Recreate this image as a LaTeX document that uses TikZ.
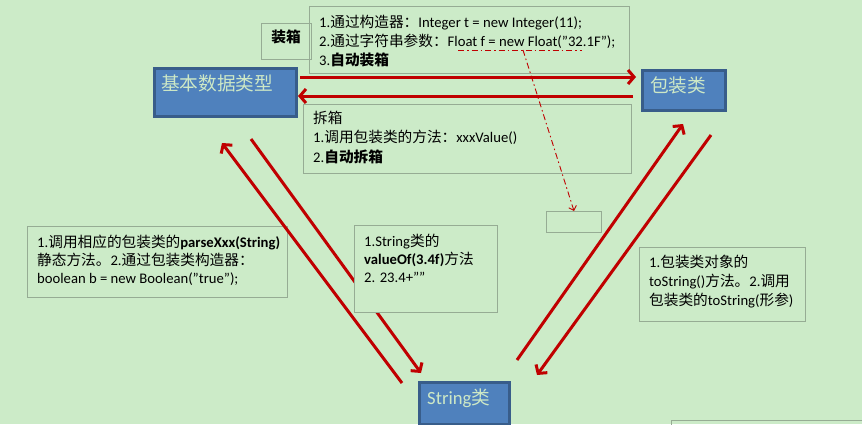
\documentclass[tikz,border=0pt]{standalone}
\usepackage{fontspec}
\setmainfont{Carlito}
\newfontfamily\cjk{Noto Sans CJK SC}
\usetikzlibrary{arrows.meta}
\newcommand\zh[1]{{\cjk #1}}
\newcommand\qq{\symbol{34}}
\definecolor{bgc}{RGB}{204,235,200}
\definecolor{bluefill}{RGB}{79,129,189}
\definecolor{blueedge}{RGB}{56,93,138}
\definecolor{paletext}{RGB}{205,232,198}
\definecolor{grayedge}{RGB}{150,172,148}
\definecolor{arrowred}{RGB}{192,0,0}
\tikzset{
  bluebox/.style={draw=blueedge, line width=3pt, fill=bluefill, anchor=north west, inner sep=0pt},
  graybox/.style={draw=grayedge, line width=1pt, anchor=north west, inner sep=0pt},
  fillbox/.style={graybox, fill=bgc},
  txt/.style={anchor=base west, inner sep=0pt, font=\fontsize{14.67}{18}\selectfont},
  bigtxt/.style={anchor=base west, inner sep=0pt, text=paletext, font=\fontsize{18.67}{22}\selectfont},
  redarrow/.style={draw=arrowred, line width=3pt, -{Straight Barb[length=6pt,width=14pt]}},
  dashdot/.style={draw=arrowred, line width=0.9pt, dash pattern=on 6pt off 3pt on 1.5pt off 3pt},
}
\begin{document}
\begin{tikzpicture}[x=1pt,y=-1pt]
\useasboundingbox (0,0) rectangle (862,424);
\fill[bgc] (0,0) rectangle (862,424);

% blue boxes
\node[bluebox, minimum width=142pt, minimum height=48pt] (prim) at (152.5,66.5) {};
\node[bigtxt] (primlabel) at (161,90) {\zh{基本数据类型}};
\node[bluebox, minimum width=83pt, minimum height=40pt] (wrap) at (640.5,68.5) {};
\node[bigtxt] (wraplabel) at (650,92) {\zh{包装类}};
\node[bluebox, minimum width=90pt, minimum height=42pt] (str) at (417.5,380.5) {};
\node[bigtxt] (strlabel) at (427,404) {String\zh{类}};

% top boxes
\node[graybox, minimum width=50pt, minimum height=36pt] (boxing) at (261,23) {};
\node[txt, anchor=base] (boxinglabel) at (286,42) {\bfseries\zh{装箱}};
\node[graybox, minimum width=320pt, minimum height=67pt] (topbox) at (309,6) {};
\node[txt] (t1) at (319,27) {1.\zh{通过构造器：}Integer t = new Integer(11);};
\node[txt] (t2) at (319,46) {2.\zh{通过字符串参数：}Float f = new Float(\qq32.1F\qq);};
\node[txt] (t3) at (319,65) {3.\textbf{\zh{自动装箱}}};
\node[graybox, minimum width=328pt, minimum height=69pt] (unbox) at (303,104) {};
\node[txt] (u1) at (313,123) {\zh{拆箱}};
\node[txt] (u2) at (313,142) {1.\zh{调用包装类的方法：}xxxValue()};
\node[txt] (u3) at (313,162) {2.\textbf{\zh{自动拆箱}}};

% left box
\node[graybox, minimum width=260pt, minimum height=71pt] (leftbox) at (27,226) {};
\node[txt] (l1) at (37,247) {1.\zh{调用相应的包装类的}\textbf{parseXxx(String)}};
\node[txt] (l2) at (37,265) {\zh{静态方法。}2.\zh{通过包装类构造器：}};
\node[txt] (l3) at (37,283) {boolean b = new Boolean(\qq true\qq);};

% right box
\node[graybox, minimum width=166pt, minimum height=74pt] (rightbox) at (639,247) {};
\node[txt] (r1) at (649,267) {1.\zh{包装类对象的}};
\node[txt] (r2) at (649,286) {toString()\zh{方法。}2.\zh{调用}};
\node[txt] (r3) at (649,305) {\zh{包装类的}toString(\zh{形参})};

% small boxes
\node[graybox, minimum width=55pt, minimum height=21pt] (smallbox) at (546,211) {};
\node[graybox, minimum width=200pt, minimum height=20pt] (cornerbox) at (671,420) {};

% red arrows
\coordinate (a1s) at (300,77);  \coordinate (a1e) at (636,77);
\coordinate (a2s) at (633,96);  \coordinate (a2e) at (298,96);
\draw[redarrow] (a1s) -- (a1e);
\draw[redarrow] (a2s) -- (a2e);
\coordinate (l1s) at (402,383); \coordinate (l1e) at (222,143);
\coordinate (l2s) at (251,139); \coordinate (l2e) at (421,373);
\coordinate (r1s) at (517,360); \coordinate (r1e) at (683,124);
\coordinate (r2s) at (711,135); \coordinate (r2e) at (537,375);
\draw[redarrow] (l1s) -- (l1e);
\draw[redarrow] (l2s) -- (l2e);
\draw[redarrow] (r1s) -- (r1e);
\draw[redarrow] (r2s) -- (r2e);

% middle box (covers arrow)
\node[fillbox, minimum width=143pt, minimum height=87pt] (midbox) at (354,225) {};
\node[txt] (m1) at (364,246) {1.String\zh{类的}};
\node[txt] (m2) at (364,264) {\textbf{valueOf(3.4f)}\zh{方法}};
\node[txt] (m3) at (364,282) {2. 23.4+\qq\qq};

% dash-dot annotation
\coordinate (dh1) at (458,50); \coordinate (dh2) at (582,50);
\coordinate (dds) at (523,50); \coordinate (dde) at (574,211);
\draw[dashdot] (dh1) -- (dh2);
\draw[dashdot, -{Straight Barb[length=4pt,width=8pt]}] (dds) -- (dde);
\end{tikzpicture}
\end{document}
